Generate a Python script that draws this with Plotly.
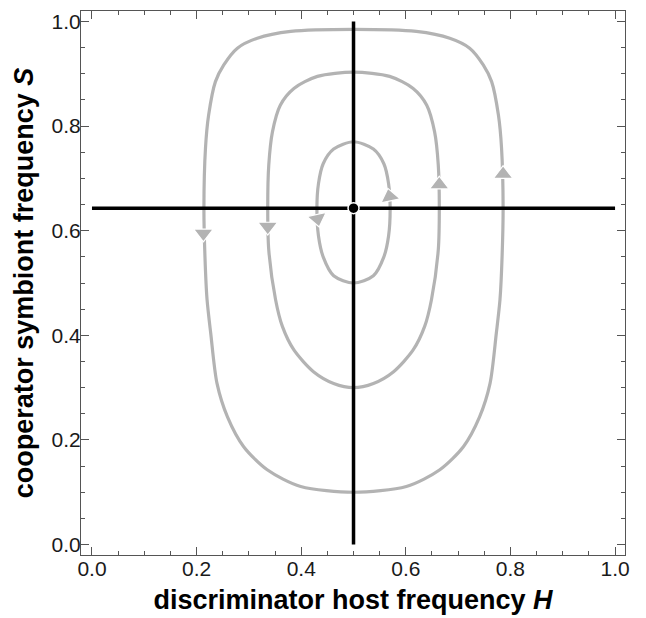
import plotly.graph_objects as go

# ---- data ----
outer_h = [0.500, 0.380, 0.316, 0.278, 0.252, 0.236, 0.223, 0.217, 0.214, 0.216, 0.220, 0.227,
           0.239, 0.259, 0.290, 0.335, 0.399, 0.500, 0.601, 0.665, 0.710, 0.741, 0.761, 0.773,
           0.780, 0.784, 0.786, 0.783, 0.777, 0.764, 0.748, 0.722, 0.684, 0.620, 0.500]
outer_s = [0.985, 0.981, 0.968, 0.949, 0.917, 0.885, 0.821, 0.758, 0.643, 0.550, 0.468, 0.404,
           0.308, 0.244, 0.187, 0.143, 0.111, 0.100, 0.111, 0.143, 0.187, 0.244, 0.308, 0.404,
           0.468, 0.550, 0.643, 0.758, 0.821, 0.885, 0.917, 0.949, 0.968, 0.981, 0.985]

mid_h = [0.500, 0.431, 0.386, 0.360, 0.345, 0.338, 0.336, 0.338, 0.351, 0.364, 0.386, 0.424, 0.462,
         0.500, 0.538, 0.576, 0.614, 0.636, 0.649, 0.662, 0.664, 0.662, 0.655, 0.640, 0.614, 0.569, 0.500]
mid_s = [0.903, 0.895, 0.872, 0.840, 0.789, 0.726, 0.643, 0.563, 0.468, 0.417, 0.372, 0.330, 0.308,
         0.300, 0.308, 0.330, 0.372, 0.417, 0.468, 0.563, 0.643, 0.726, 0.789, 0.840, 0.872, 0.895, 0.903]

inner_h = [0.500, 0.462, 0.442, 0.433, 0.430, 0.433, 0.442, 0.462, 0.500,
           0.538, 0.558, 0.567, 0.570, 0.567, 0.558, 0.538, 0.500]
inner_s = [0.770, 0.756, 0.728, 0.690, 0.643, 0.590, 0.550, 0.514, 0.500,
           0.514, 0.550, 0.590, 0.643, 0.690, 0.728, 0.756, 0.770]

# nullclines and equilibrium
h_star = 0.5
s_star = 0.643
null_range = [0.0, 1.0]

# arrowheads on the orbits
arrow_h = [0.213, 0.336, 0.431, 0.569, 0.664, 0.786]
arrow_s = [0.595, 0.608, 0.623, 0.665, 0.688, 0.708]
arrow_sym = ["triangle-down", "triangle-down", "triangle-down",
             "triangle-up", "triangle-up", "triangle-up"]
arrow_ang = [0, 0, -12, -12, 0, 0]

x_ticks = [0.0, 0.2, 0.4, 0.6, 0.8, 1.0]
y_ticks = [0.0, 0.2, 0.4, 0.6, 0.8, 1.0]

GRAY = "#b3b3b3"
FONT = "Liberation Sans, Arial, Helvetica, sans-serif"

fig = go.Figure()
for hs, ss in [(outer_h, outer_s), (mid_h, mid_s), (inner_h, inner_s)]:
    fig.add_trace(go.Scatter(x=hs, y=ss, mode="lines",
                             line=dict(color=GRAY, width=3.2, shape="spline", smoothing=0.8),
                             hoverinfo="skip", showlegend=False))

fig.add_trace(go.Scatter(x=null_range, y=[s_star, s_star], mode="lines",
                         line=dict(color="black", width=3.5), showlegend=False))
fig.add_trace(go.Scatter(x=[h_star, h_star], y=null_range, mode="lines",
                         line=dict(color="black", width=3.5), showlegend=False))

fig.add_trace(go.Scatter(x=arrow_h, y=arrow_s, mode="markers",
                         marker=dict(symbol=arrow_sym, angle=arrow_ang, size=17, color=GRAY,
                                     line=dict(color="white", width=1.2)),
                         showlegend=False))

fig.add_trace(go.Scatter(x=[h_star], y=[s_star], mode="markers",
                         marker=dict(size=11, color="black", line=dict(color="white", width=1.5)),
                         showlegend=False))

axis_common = dict(
    showgrid=False, zeroline=False, automargin=False,
    showline=True, linecolor="#555555", linewidth=1.2, mirror="ticks",
    ticks="inside", ticklen=8, tickwidth=1.2, tickcolor="#555555",
    tickfont=dict(family=FONT, size=21, color="#1a1a1a"),
    tickformat=".1f", ticklabelstandoff=-5,
    minor=dict(dtick=0.05, ticks="inside", ticklen=4, tickwidth=1, tickcolor="#555555"),
)

# page has an 8px body margin, so the figure is sized/shifted to compensate
fig.update_layout(
    width=638, height=610,
    margin=dict(l=73, r=21, t=3, b=63),
    plot_bgcolor="white", paper_bgcolor="white",
    showlegend=False,
    xaxis=dict(range=[-0.021, 1.019], tickvals=x_ticks,
               title=dict(text="<b>discriminator host frequency <i>H</i></b>",
                          font=dict(family=FONT, size=27, color="black"), standoff=10),
               **axis_common),
    yaxis=dict(range=[-0.02, 1.02], tickvals=y_ticks,
               title=dict(text="<b>cooperator symbiont frequency <i>S</i></b>",
                          font=dict(family=FONT, size=27, color="black"), standoff=10),
               **axis_common),
)

fig.write_html("out.html")
